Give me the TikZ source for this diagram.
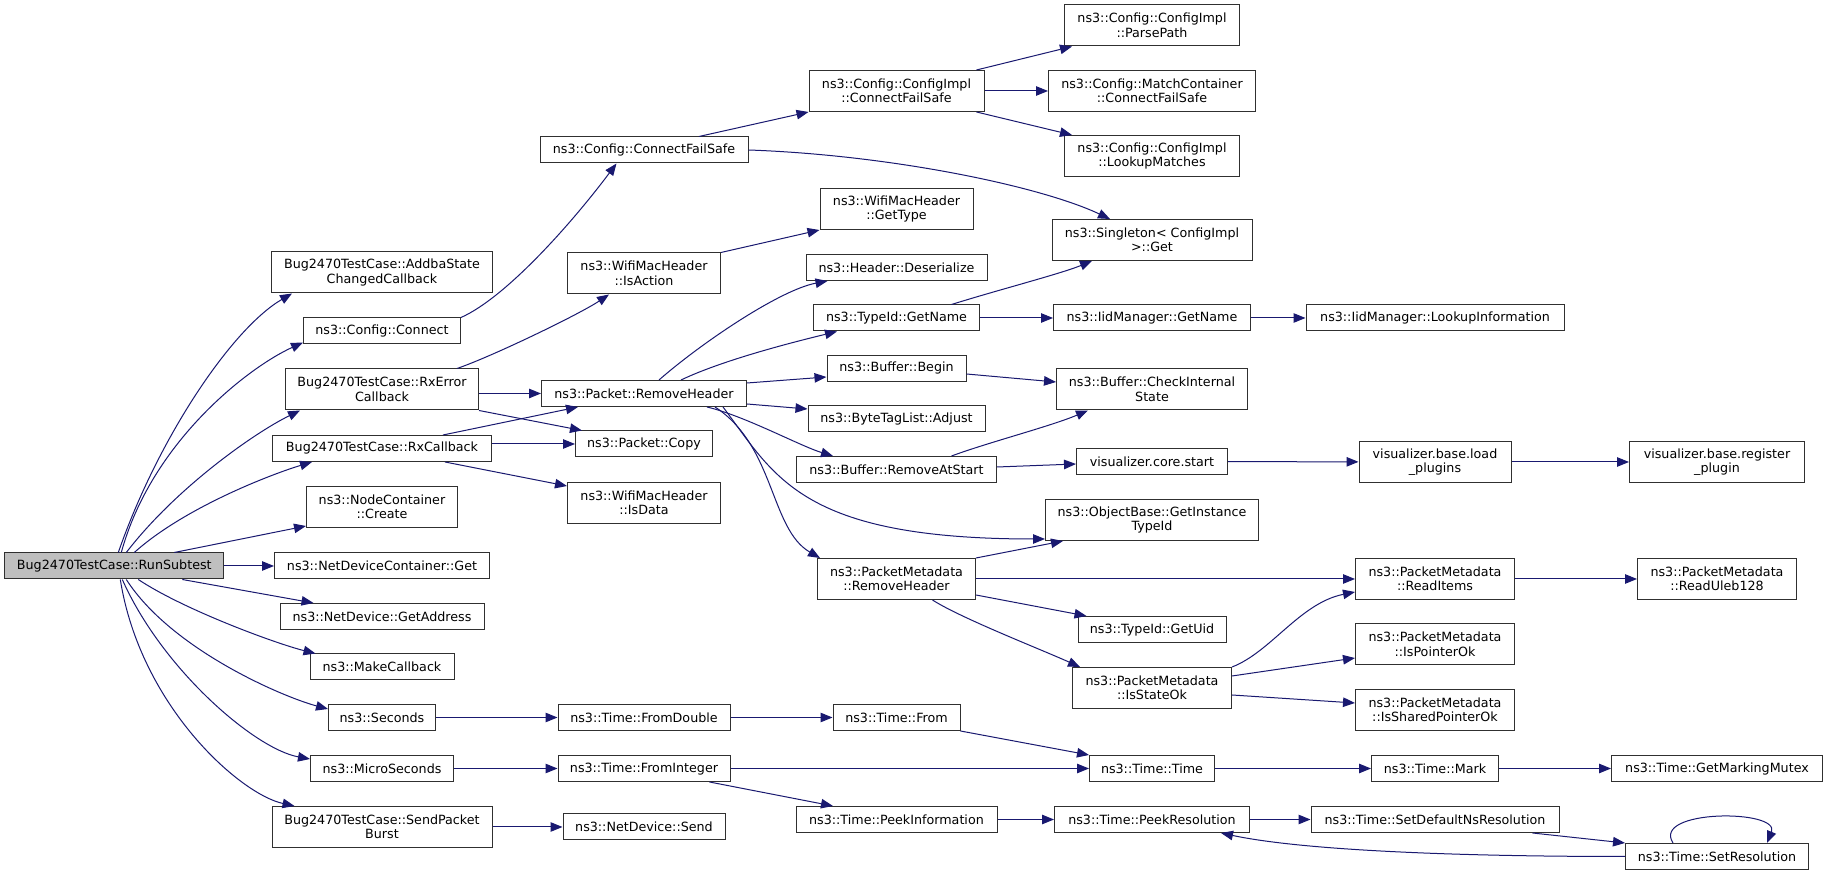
\documentclass[tikz,border=0pt]{standalone}
\usepackage{fontspec}
\setmainfont{DejaVu Sans}
\usepackage{xcolor}
\usepackage{tikz}
\usetikzlibrary{arrows.meta,calc}
\definecolor{midnight}{RGB}{25,25,112}
\definecolor{frame}{RGB}{48,48,48}
\definecolor{rootgray}{RGB}{191,191,191}
\tikzset{
  fn/.style    = {draw=frame, fill=white, text=black, align=center, inner sep=0pt,
                  line width=1pt, minimum height=26pt,
                  font=\fontsize{12.7}{14.5}\selectfont},
  fn2/.style   = {fn, minimum height=41pt},
  root/.style  = {fn, fill=rootgray},
  call/.style  = {-{Triangle[length=12pt,width=9.5pt]}, draw=midnight, line width=1pt},
}

\begin{document}
\begin{tikzpicture}[x=1pt, y=1pt]
\fill[white, use as bounding box] (0,0) rectangle (1828,875);

% Column 1: the caller
\node[root, minimum width=219] (run) at (114.3,309) {Bug2470TestCase::RunSubtest};

% Column 2: direct callees
\node[fn2, minimum width=221] (addba) at (382,602.5) {Bug2470TestCase::AddbaState\\ChangedCallback};
\node[fn, minimum width=157] (connect) at (382,544) {ns3::Config::Connect};
\node[fn2, minimum width=193] (rxerr) at (382,485.5) {Bug2470TestCase::RxError\\Callback};
\node[fn, minimum width=219] (rxcb) at (382,426.5) {Bug2470TestCase::RxCallback};
\node[fn2, minimum width=151] (create) at (382,368) {ns3::NodeContainer\\::Create};
\node[fn, minimum width=215] (ndcget) at (382,309) {ns3::NetDeviceContainer::Get};
\node[fn, minimum width=204] (getaddr) at (382,258.5) {ns3::NetDevice::GetAddress};
\node[fn, minimum width=144] (makecb) at (382,208) {ns3::MakeCallback};
\node[fn, minimum width=107] (seconds) at (382,157.5) {ns3::Seconds};
\node[fn, minimum width=143] (micro) at (382,106.5) {ns3::MicroSeconds};
\node[fn2, minimum width=220] (burst) at (382,48) {Bug2470TestCase::SendPacket\\Burst};

% Column 3
\node[fn, minimum width=208] (cfs) at (644,725) {ns3::Config::ConnectFailSafe};
\node[fn2, minimum width=153] (isaction) at (644,601.5) {ns3::WifiMacHeader\\::IsAction};
\node[fn, minimum width=205] (prh) at (644,481.5) {ns3::Packet::RemoveHeader};
\node[fn, minimum width=137] (copy) at (644,431) {ns3::Packet::Copy};
\node[fn2, minimum width=153] (isdata) at (644,372) {ns3::WifiMacHeader\\::IsData};
\node[fn, minimum width=172] (fromdbl) at (644,157.5) {ns3::Time::FromDouble};
\node[fn, minimum width=172] (fromint) at (644,106.5) {ns3::Time::FromInteger};
\node[fn, minimum width=162] (send) at (644,48) {ns3::NetDevice::Send};

% Column 4
\node[fn2, minimum width=175] (cicfs) at (896.5,784) {ns3::Config::ConfigImpl\\::ConnectFailSafe};
\node[fn2, minimum width=153] (gettype) at (896.5,666) {ns3::WifiMacHeader\\::GetType};
\node[fn, minimum width=181] (deser) at (896.5,607.5) {ns3::Header::Deserialize};
\node[fn, minimum width=166] (getname) at (896.5,557) {ns3::TypeId::GetName};
\node[fn, minimum width=139] (begin) at (896.5,506.5) {ns3::Buffer::Begin};
\node[fn, minimum width=177] (adjust) at (896.5,456) {ns3::ByteTagList::Adjust};
\node[fn, minimum width=200] (rmstart) at (896.5,405.5) {ns3::Buffer::RemoveAtStart};
\node[fn2, minimum width=158] (pmrh) at (896.5,296) {ns3::PacketMetadata\\::RemoveHeader};
\node[fn, minimum width=127] (from) at (896.5,157.5) {ns3::Time::From};
\node[fn, minimum width=201] (peekinfo) at (896.5,55.5) {ns3::Time::PeekInformation};

% Column 5
\node[fn2, minimum width=175] (parse) at (1152,849.5) {ns3::Config::ConfigImpl\\::ParsePath};
\node[fn2, minimum width=207] (match) at (1152,784) {ns3::Config::MatchContainer\\::ConnectFailSafe};
\node[fn2, minimum width=175] (lookup) at (1152,719) {ns3::Config::ConfigImpl\\::LookupMatches};
\node[fn2, minimum width=200] (single) at (1152,635) {ns3::Singleton< ConfigImpl\\ >::Get};
\node[fn, minimum width=197] (iidname) at (1152,557) {ns3::IidManager::GetName};
\node[fn2, minimum width=191] (check) at (1152,485.5) {ns3::Buffer::CheckInternal\\State};
\node[fn, minimum width=151] (vstart) at (1152,413.5) {visualizer.core.start};
\node[fn2, minimum width=213] (instid) at (1152,355) {ns3::ObjectBase::GetInstance\\TypeId};
\node[fn, minimum width=148] (getuid) at (1152,245.5) {ns3::TypeId::GetUid};
\node[fn2, minimum width=159] (stateok) at (1152,187) {ns3::PacketMetadata\\::IsStateOk};
\node[fn, minimum width=125] (ttime) at (1152,106.5) {ns3::Time::Time};
\node[fn, minimum width=195] (peekres) at (1152,55.5) {ns3::Time::PeekResolution};

% Column 6
\node[fn, minimum width=258] (lookinfo) at (1435,557) {ns3::IidManager::LookupInformation};
\node[fn2, minimum width=152] (vload) at (1435,413) {visualizer.base.load\\\_plugins};
\node[fn2, minimum width=159] (readitems) at (1435,296) {ns3::PacketMetadata\\::ReadItems};
\node[fn2, minimum width=159] (ptrok) at (1435,230.5) {ns3::PacketMetadata\\::IsPointerOk};
\node[fn2, minimum width=159] (sptrok) at (1435,165) {ns3::PacketMetadata\\::IsSharedPointerOk};
\node[fn, minimum width=127] (mark) at (1435,106.5) {ns3::Time::Mark};
\node[fn, minimum width=248] (setdef) at (1435,55.5) {ns3::Time::SetDefaultNsResolution};

% Column 7
\node[fn2, minimum width=175] (vreg) at (1717,413) {visualizer.base.register\\\_plugin};
\node[fn2, minimum width=159] (uleb) at (1717,296) {ns3::PacketMetadata\\::ReadUleb128};
\node[fn, minimum width=211] (mutex) at (1717,106.5) {ns3::Time::GetMarkingMutex};
\node[fn, minimum width=183] (setres) at (1717,18.5) {ns3::Time::SetResolution};

% calls made by RunSubtest
\draw[call] ([xshift=4pt]run.north) .. controls +(40,115) and +(-60,-35) .. ([xshift=21pt]addba.south west);
\draw[call] ([xshift=7pt]run.north) .. controls +(30,110) and +(-55,-25) .. ([yshift=2pt]connect.south west);
\draw[call] ([xshift=12pt]run.north) .. controls +(50,65) and +(-45,-22) .. ([xshift=15pt]rxerr.south west);
\draw[call] ([xshift=20pt]run.north) .. controls +(50,45) and +(-40,-12) .. ([xshift=40pt]rxcb.south west);
\draw[call] ([xshift=60pt]run.north) -- ([yshift=2pt]create.south west);
\draw[call] (run) -- (ndcget);
\draw[call] ([xshift=68pt]run.south) -- ([xshift=34pt]getaddr.north west);
\draw[call] ([xshift=24pt]run.south) .. controls +(45,-30) and +(-40,10) .. ([xshift=6pt]makecb.north west);
\draw[call] ([xshift=12pt]run.south) .. controls +(45,-70) and +(-45,12) .. ([yshift=-5pt]seconds.north west);
\draw[call] ([xshift=8pt]run.south) .. controls +(40,-90) and +(-55,10) .. ([yshift=-4pt]micro.north west);
\draw[call] ([xshift=6pt]run.south) .. controls +(20,-126) and +(-55,12) .. ([xshift=23pt]burst.north west);

% second level
\draw[call] (connect.north east) .. controls +(45,20) and +(-45,-60) .. ([xshift=77pt]cfs.south west);
\draw[call] ([xshift=75pt]rxerr.north) .. controls +(35,12) and +(-30,-20) .. ([xshift=42pt]isaction.south west);
\draw[call] (rxerr.east |- prh) -- (prh.west);
\draw[call] (rxerr.south east) -- ([xshift=7pt]copy.north west);
\draw[call] ([xshift=61pt]rxcb.north) -- ([xshift=37pt]prh.south west);
\draw[call] (rxcb.east |- copy) -- (copy.west);
\draw[call] ([xshift=63pt]rxcb.south) -- ([yshift=-4pt]isdata.north west);
\draw[call] (seconds) -- (fromdbl);
\draw[call] (micro) -- (fromint);
\draw[call] (burst) -- (send);

% third level
\draw[call] ([xshift=55pt]cfs.north) -- (cicfs.south west);
\draw[call] (cfs.east) .. controls +(142,-5) and +(-70,33) .. ([xshift=-42pt]single.north);
\draw[call] (isaction.north east) -- (gettype.south west);
\draw[call] ([xshift=15pt]prh.north) .. controls +(41,36) and +(-48,-9) .. ([xshift=22pt]deser.south west);
\draw[call] ([xshift=37pt]prh.north) .. controls +(44,21) and +(-37,-9) .. ([xshift=24pt]getname.south west);
\draw[call] ([yshift=10.5pt]prh.east) -- ([yshift=-8.5pt]begin.west);
\draw[call] ([yshift=-10.5pt]prh.east) -- ([yshift=10pt]adjust.west);
\draw[call] ([xshift=63pt]prh.south) .. controls +(38,-9) and +(-33,10) .. ([xshift=37pt]rmstart.north west);
\draw[call] ([xshift=79pt]prh.south) .. controls +(52,-69) and +(-245,0) .. ([yshift=2pt]instid.south west);
\draw[call] ([xshift=71pt]prh.south) .. controls +(60,-39) and +(-50,29) .. ([xshift=3pt]pmrh.north west);
\draw[call] (fromdbl) -- (from);
\draw[call] (fromint) -- (ttime);
\draw[call] ([xshift=-21pt]fromint.south east) -- ([xshift=37.5pt]peekinfo.north west);

% fourth level
\draw[call] ([xshift=-8pt]cicfs.north east) -- ([xshift=8pt]parse.south west);
\draw[call] (cicfs) -- (match);
\draw[call] ([xshift=-8pt]cicfs.south east) -- ([xshift=8pt]lookup.north west);
\draw[call] ([xshift=55pt]getname.north) .. controls +(48,15) and +(-32,-13) .. ([xshift=-60pt]single.south);
\draw[call] (getname) -- (iidname);
\draw[call] ([yshift=-5.5pt]begin.east) -- ([yshift=7.5pt]check.west);
\draw[call] ([xshift=55pt]rmstart.north) .. controls +(38,14) and +(-38,-16) .. ([xshift=-64pt]check.south);
\draw[call] ([yshift=2.5pt]rmstart.east) -- ([yshift=-2.5pt]vstart.west);
\draw[call] (pmrh.north east) -- ([xshift=-89pt]instid.south);
\draw[call] (pmrh) -- (readitems);
\draw[call] ([yshift=-16pt]pmrh.east) -- ([xshift=9pt]getuid.north west);
\draw[call] ([xshift=36pt]pmrh.south) .. controls +(28,-18) and +(-40,18) .. ([xshift=8pt]stateok.north west);
\draw[call] (from.south east) -- (ttime.north west);
\draw[call] (peekinfo) -- (peekres);

% fifth level and beyond
\draw[call] (iidname) -- (lookinfo);
\draw[call] (vstart) -- (vload);
\draw[call] (vload) -- (vreg);
\draw[call] (stateok.north east) .. controls +(39,15) and +(-55,-11) .. ([yshift=8pt]readitems.south west);
\draw[call] ([yshift=12pt]stateok.east) -- ([yshift=-13.5pt]ptrok.west);
\draw[call] ([yshift=-7pt]stateok.east) -- ([yshift=7pt]sptrok.west);
\draw[call] (readitems) -- (uleb);
\draw[call] (ttime) -- (mark);
\draw[call] (mark) -- (mutex);
\draw[call] (peekres) -- (setdef);
\draw[call] ([xshift=-27pt]setdef.south east) -- (setres.north west);
\draw[call] (setres.west) .. controls +(-175,0) and +(80,-17) .. ([xshift=-29pt]peekres.south east);
\draw[call] ([xshift=-44pt]setres.north) .. controls +(-22,34) and +(14,34) .. ([xshift=50pt]setres.north);
\end{tikzpicture}
\end{document}
